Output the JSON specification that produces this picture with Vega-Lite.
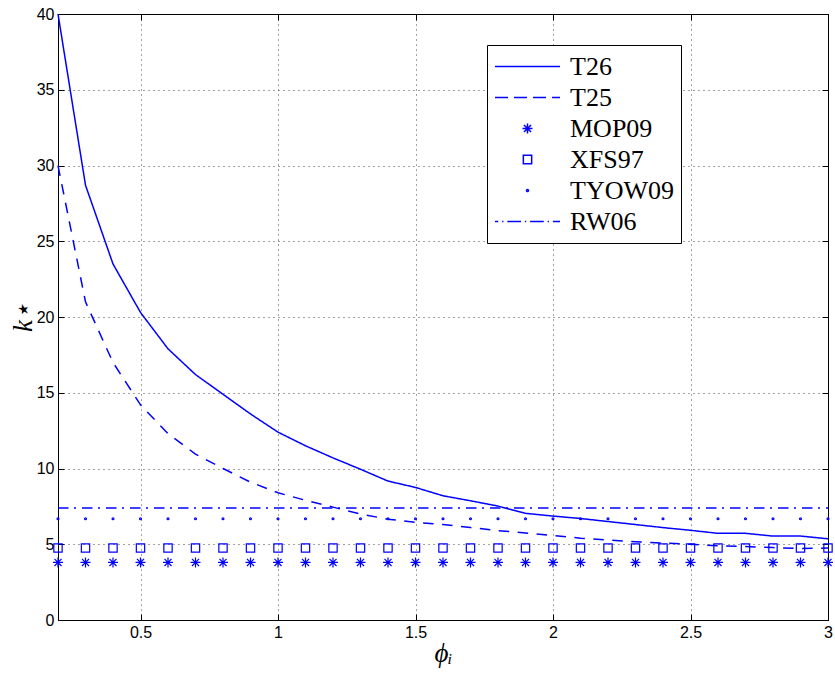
{
  "$schema": "https://vega.github.io/schema/vega-lite/v6.json",
  "autosize": "none",
  "width": 770,
  "height": 606,
  "padding": {"left": 58, "top": 14, "right": 7, "bottom": 58},
  "background": "white",
  "config": {
    "view": {"stroke": "black", "strokeWidth": 1},
    "axis": {
      "labelFont": "Liberation Sans",
      "labelFontSize": 16,
      "labelColor": "black",
      "domainColor": "black",
      "tickColor": "black",
      "tickSize": -6,
      "labelPadding": 10,
      "gridColor": "#444",
      "gridDash": [1, 4],
      "gridOpacity": 1,
      "gridWidth": 1,
      "titleFont": "Liberation Serif",
      "titleFontStyle": "italic",
      "titleFontWeight": "normal",
      "titleFontSize": 27,
      "titleColor": "black"
    }
  },
  "data": {
    "values": [
      {"phi": 0.2, "T26": 40, "T25": 30, "MOP09": 3.8, "XFS97": 4.75, "TYOW09": 6.68, "RW06": 7.39},
      {"phi": 0.3, "T26": 28.7, "T25": 21, "MOP09": 3.8, "XFS97": 4.75, "TYOW09": 6.68, "RW06": 7.39},
      {"phi": 0.4, "T26": 23.5, "T25": 17, "MOP09": 3.8, "XFS97": 4.75, "TYOW09": 6.68, "RW06": 7.39},
      {"phi": 0.5, "T26": 20.3, "T25": 14.2, "MOP09": 3.8, "XFS97": 4.75, "TYOW09": 6.68, "RW06": 7.39},
      {"phi": 0.6, "T26": 17.9, "T25": 12.3, "MOP09": 3.8, "XFS97": 4.75, "TYOW09": 6.68, "RW06": 7.39},
      {"phi": 0.7, "T26": 16.2, "T25": 10.95, "MOP09": 3.8, "XFS97": 4.75, "TYOW09": 6.68, "RW06": 7.39},
      {"phi": 0.8, "T26": 14.9, "T25": 10.0, "MOP09": 3.8, "XFS97": 4.75, "TYOW09": 6.68, "RW06": 7.39},
      {"phi": 0.9, "T26": 13.6, "T25": 9.1, "MOP09": 3.8, "XFS97": 4.75, "TYOW09": 6.68, "RW06": 7.39},
      {"phi": 1.0, "T26": 12.4, "T25": 8.4, "MOP09": 3.8, "XFS97": 4.75, "TYOW09": 6.68, "RW06": 7.39},
      {"phi": 1.1, "T26": 11.5, "T25": 7.9, "MOP09": 3.8, "XFS97": 4.75, "TYOW09": 6.68, "RW06": 7.39},
      {"phi": 1.2, "T26": 10.7, "T25": 7.45, "MOP09": 3.8, "XFS97": 4.75, "TYOW09": 6.68, "RW06": 7.39},
      {"phi": 1.3, "T26": 9.95, "T25": 7.0, "MOP09": 3.8, "XFS97": 4.75, "TYOW09": 6.68, "RW06": 7.39},
      {"phi": 1.4, "T26": 9.17, "T25": 6.65, "MOP09": 3.8, "XFS97": 4.75, "TYOW09": 6.68, "RW06": 7.39},
      {"phi": 1.5, "T26": 8.75, "T25": 6.45, "MOP09": 3.8, "XFS97": 4.75, "TYOW09": 6.68, "RW06": 7.39},
      {"phi": 1.6, "T26": 8.2, "T25": 6.3, "MOP09": 3.8, "XFS97": 4.75, "TYOW09": 6.68, "RW06": 7.39},
      {"phi": 1.7, "T26": 7.87, "T25": 6.1, "MOP09": 3.8, "XFS97": 4.75, "TYOW09": 6.68, "RW06": 7.39},
      {"phi": 1.8, "T26": 7.52, "T25": 5.9, "MOP09": 3.8, "XFS97": 4.75, "TYOW09": 6.68, "RW06": 7.39},
      {"phi": 1.9, "T26": 7.04, "T25": 5.75, "MOP09": 3.8, "XFS97": 4.75, "TYOW09": 6.68, "RW06": 7.39},
      {"phi": 2.0, "T26": 6.86, "T25": 5.58, "MOP09": 3.8, "XFS97": 4.75, "TYOW09": 6.68, "RW06": 7.39},
      {"phi": 2.1, "T26": 6.7, "T25": 5.4, "MOP09": 3.8, "XFS97": 4.75, "TYOW09": 6.68, "RW06": 7.39},
      {"phi": 2.2, "T26": 6.5, "T25": 5.28, "MOP09": 3.8, "XFS97": 4.75, "TYOW09": 6.68, "RW06": 7.39},
      {"phi": 2.3, "T26": 6.3, "T25": 5.17, "MOP09": 3.8, "XFS97": 4.75, "TYOW09": 6.68, "RW06": 7.39},
      {"phi": 2.4, "T26": 6.1, "T25": 5.08, "MOP09": 3.8, "XFS97": 4.75, "TYOW09": 6.68, "RW06": 7.39},
      {"phi": 2.5, "T26": 5.92, "T25": 5.0, "MOP09": 3.8, "XFS97": 4.75, "TYOW09": 6.68, "RW06": 7.39},
      {"phi": 2.6, "T26": 5.72, "T25": 4.9, "MOP09": 3.8, "XFS97": 4.75, "TYOW09": 6.68, "RW06": 7.39},
      {"phi": 2.7, "T26": 5.72, "T25": 4.85, "MOP09": 3.8, "XFS97": 4.75, "TYOW09": 6.68, "RW06": 7.39},
      {"phi": 2.8, "T26": 5.54, "T25": 4.78, "MOP09": 3.8, "XFS97": 4.75, "TYOW09": 6.68, "RW06": 7.39},
      {"phi": 2.9, "T26": 5.54, "T25": 4.72, "MOP09": 3.8, "XFS97": 4.75, "TYOW09": 6.68, "RW06": 7.39},
      {"phi": 3.0, "T26": 5.36, "T25": 4.75, "MOP09": 3.8, "XFS97": 4.75, "TYOW09": 6.68, "RW06": 7.39}
    ]
  },
  "transform": [
    {"fold": ["T26", "T25", "MOP09", "XFS97", "TYOW09", "RW06"], "as": ["series", "k"]}
  ],
  "resolve": {"axis": {"x": "independent", "y": "independent"}},
  "layer": [
    {
      "transform": [{"filter": {"field": "series", "oneOf": ["T26", "T25", "RW06"]}}],
      "mark": {"type": "line", "color": "#0000ff", "strokeWidth": 1.5},
      "encoding": {
        "x": {
          "field": "phi", "type": "quantitative",
          "scale": {"domain": [0.2, 3], "nice": false, "zero": false},
          "axis": {"orient": "bottom", "values": [0.5, 1, 1.5, 2, 2.5, 3], "format": "~g", "grid": true, "title": "ϕᵢ", "titlePadding": 0, "labelFlush": false}
        },
        "y": {
          "field": "k", "type": "quantitative",
          "scale": {"domain": [0, 40], "nice": false},
          "axis": {"orient": "left", "values": [0, 5, 10, 15, 20, 25, 30, 35, 40], "grid": true, "title": "k⋆", "titleX": -21, "labelFlush": false}
        },
        "detail": {"field": "series"},
        "strokeDash": {
          "field": "series", "type": "nominal",
          "scale": {"domain": ["T26", "T25", "RW06"], "range": [[1, 0], [10.5, 8.5], [10.5, 5.5, 2, 6]]},
          "legend": null
        }
      }
    },
    {
      "transform": [{"filter": {"field": "series", "oneOf": ["MOP09", "XFS97", "TYOW09"]}}],
      "mark": {"type": "point", "filled": false, "color": "#0000ff", "size": 4225, "strokeWidth": 1.2, "opacity": 1},
      "encoding": {
        "x": {
          "field": "phi", "type": "quantitative",
          "axis": {"orient": "top", "values": [0.5, 1, 1.5, 2, 2.5, 3], "labels": false, "grid": false, "title": null}
        },
        "y": {
          "field": "k", "type": "quantitative",
          "axis": {"orient": "right", "values": [0, 5, 10, 15, 20, 25, 30, 35, 40], "labels": false, "grid": false, "title": null}
        },
        "shape": {
          "field": "series", "type": "nominal",
          "scale": {
            "domain": ["T26", "T25", "MOP09", "XFS97", "TYOW09", "RW06"],
            "range": [
              "M-1,0H1",
              "M-1,0H-0.6M-0.415,0H-0.015M0.17,0H0.57M0.755,0H1",
              "M-0.154,0H0.154M0,-0.154V0.154M-0.109,-0.109L0.109,0.109M-0.109,0.109L0.109,-0.109",
              "M-0.128,-0.128H0.128V0.128H-0.128Z",
              "M-0.03,0A0.03,0.03,0,1,1,0.03,0A0.03,0.03,0,1,1,-0.03,0Z",
              "M-1,0H-0.9M-0.78,0H-0.74M-0.62,0H-0.2M-0.08,0H-0.04M0.08,0H0.5M0.62,0H0.66M0.78,0H1"
            ]
          },
          "legend": {
            "title": null,
            "orient": "none",
            "legendX": 429,
            "legendY": 31,
            "strokeColor": "black",
            "fillColor": "white",
            "padding": 7,
            "labelFont": "Liberation Serif",
            "labelFontSize": 26,
            "labelColor": "black",
            "labelOffset": 9,
            "symbolSize": 4225,
            "symbolStrokeWidth": 1.5,
            "symbolFillColor": "transparent",
            "symbolStrokeColor": "#0000ff",
            "symbolOpacity": 1,
            "clipHeight": 29,
            "rowPadding": 2
          }
        }
      }
    }
  ]
}
